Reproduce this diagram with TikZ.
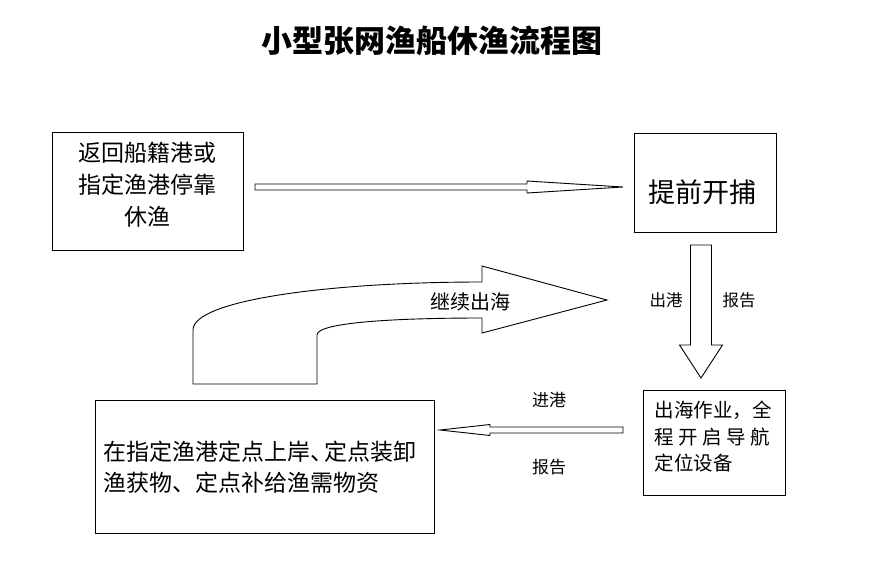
\documentclass[tikz,border=0pt]{standalone}
\usepackage{fontspec}
\setmainfont{Noto Sans CJK SC}
\begin{document}
\begin{tikzpicture}[x=1pt,y=-1pt,
  box/.style={draw, line width=0.9pt, inner sep=0pt},
  txt/.style={inner sep=0pt, align=center},
  fat/.style={draw, line width=0.9pt, fill=white, line join=miter}]
\useasboundingbox (0,0) rectangle (884,565);
% title
\node[txt, font=\fontsize{31}{36}\selectfont\bfseries] (title) at (432,41){小型张网渔船休渔流程图};
% boxes
\node[box, minimum width=191, minimum height=118] (back) at (147.5,191){};
\node[txt, font=\fontsize{23}{32}\selectfont] (backtxt) at (147,185){返回船籍港或\\指定渔港停靠\\休渔};
\node[box, minimum width=142, minimum height=99] (open) at (705,182.5){};
\node[txt, font=\fontsize{27}{32}\selectfont] (opentxt) at (702,192){提前开捕};
\node[box, minimum width=142, minimum height=105] (sea) at (714,442.5){};
\node[txt, align=left, font=\fontsize{19.5}{26.5}\selectfont] (seatxt) at (713,437){出海作业，全\\\makebox[116pt][s]{程\hfill 开\hfill 启\hfill 导\hfill 航}\\定位设备};
\node[box, minimum width=339, minimum height=133] (land) at (264.5,466.5){};
\node[txt, align=left, font=\fontsize{23}{31}\selectfont] (landtxt) at (260,467.5){在指定渔港定点上岸、\kern-9pt 定点装卸\\渔获物、定点补给渔需物资};
% block arrows
\draw[fat] (255,184) -- (527,184) -- (527,181) -- (623,187) -- (527,193) -- (527,190) -- (255,190) -- cycle;
\draw[fat] (690.5,245) -- (711.5,245) -- (711.5,345) -- (722.5,345) -- (701,378) -- (679.5,345) -- (690.5,345) -- cycle;
\draw[fat] (623,427) -- (490,427) -- (490,424.5) -- (440,430) -- (490,435.5) -- (490,433) -- (623,433) -- cycle;
\draw[fat] (193,384) -- (193,330) .. controls (193,300) and (330,282) .. (482,282)
  -- (482,266) -- (607,300) -- (482,333) -- (482,318)
  .. controls (400,318) and (317,322) .. (317,335) -- (317,384) -- cycle;
% labels
\node[txt, font=\fontsize{20}{24}\selectfont] (again) at (470,302){继续出海};
\node[txt, font=\fontsize{16.5}{20}\selectfont] (out) at (666,300){出港};
\node[txt, font=\fontsize{16.5}{20}\selectfont] (outrep) at (739,300){报告};
\node[txt, font=\fontsize{17}{20}\selectfont] (in) at (549,400){进港};
\node[txt, font=\fontsize{17}{20}\selectfont] (inrep) at (549,467){报告};
\end{tikzpicture}
\end{document}
